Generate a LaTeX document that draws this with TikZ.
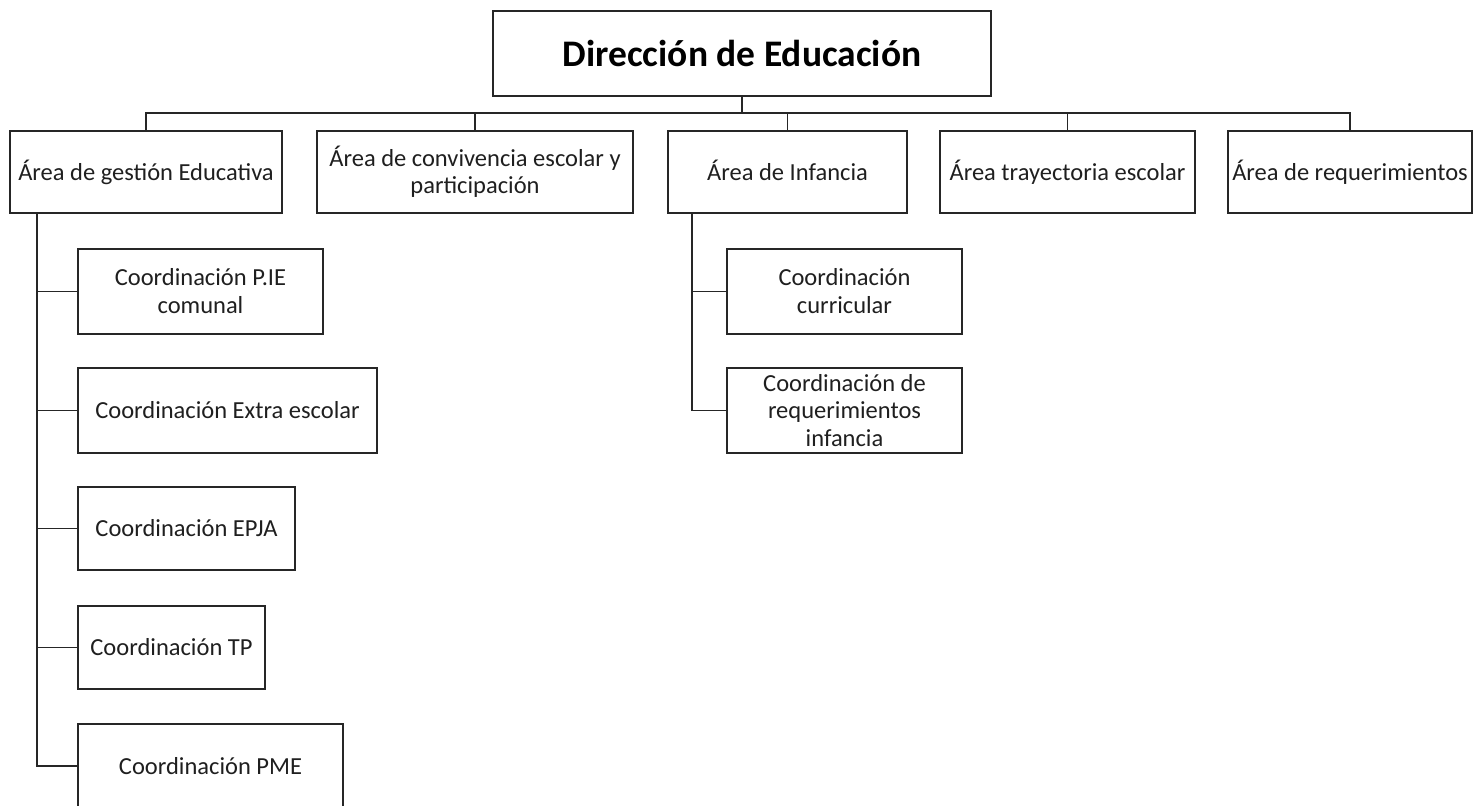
\documentclass[tikz,border=0pt]{standalone}
\usepackage{fontspec}
\setmainfont{Carlito}
\newcommand{\ms}{\vphantom{Ágy}}
\begin{document}
\begin{tikzpicture}[x=1pt,y=-1pt,
  box/.style={draw=black!85,line width=1.5pt,rectangle,inner sep=0pt,align=center,
    font=\fontsize{24.5}{27.5}\selectfont,text=black!88},
  link/.style={draw=black!85,line width=1.5pt}]
\clip (0,0) rectangle (1473,806);
\useasboundingbox (0,0) rectangle (1473,806);
% top
\node[box,minimum width=498pt,minimum height=85pt,font=\fontsize{37.5}{40}\selectfont\bfseries,text=black] (top) at (742,53.5) {Dirección de Educación\ms};
% level 2
\node[box,minimum width=272pt,minimum height=82pt] (g1) at (146,172) {Área de gestión Educativa\ms};
\node[box,minimum width=316pt,minimum height=82pt] (g2) at (475,172) {Área de convivencia escolar y\ms\\participación\ms};
\node[box,minimum width=239pt,minimum height=82pt] (g3) at (787.5,172) {Área de Infancia\ms};
\node[box,minimum width=255pt,minimum height=82pt] (g4) at (1067.5,172) {Área trayectoria escolar\ms};
\node[box,minimum width=244pt,minimum height=82pt] (g5) at (1350,172) {Área de requerimientos\ms};
% sub-boxes of gestion
\node[box,minimum width=245pt,minimum height=85pt] (s1) at (200.5,291.5) {Coordinación P.IE\ms\\comunal\ms};
\node[box,minimum width=299pt,minimum height=85pt] (s2) at (227.5,410.5) {Coordinación Extra escolar\ms};
\node[box,minimum width=217pt,minimum height=83pt] (s3) at (186.5,528.5) {Coordinación EPJA\ms};
\node[box,minimum width=187pt,minimum height=83pt] (s4) at (171.5,647.5) {Coordinación TP\ms};
\node[box,minimum width=265pt,minimum height=84pt] (s5) at (210.5,766) {Coordinación PME\ms};
% sub-boxes of infancia
\node[box,minimum width=235pt,minimum height=85pt] (i1) at (844.5,291.5) {Coordinación\ms\\curricular\ms};
\node[box,minimum width=235pt,minimum height=85pt,font=\fontsize{24.5}{27.5}\selectfont] (i2) at (844.5,410.5) {Coordinación de\\requerimientos\\infancia};
% connectors
\coordinate (bus) at (742,113);
\draw[link] (top.south) -- (bus);
\draw[link] (g1.north) -- (g1.north |- bus) -- (g5.north |- bus) -- (g5.north);
\draw[link] (g2.north) -- (g2.north |- bus);
\draw[link] (g3.north) -- (g3.north |- bus);
\draw[link] (g4.north) -- (g4.north |- bus);
\coordinate (gt) at (37,213);
\draw[link] (gt) |- (s5.west);
\draw[link] (gt |- s1.west) -- (s1.west);
\draw[link] (gt |- s2.west) -- (s2.west);
\draw[link] (gt |- s3.west) -- (s3.west);
\draw[link] (gt |- s4.west) -- (s4.west);
\coordinate (it) at (692,213);
\draw[link] (it) |- (i2.west);
\draw[link] (it |- i1.west) -- (i1.west);
\end{tikzpicture}
\end{document}
